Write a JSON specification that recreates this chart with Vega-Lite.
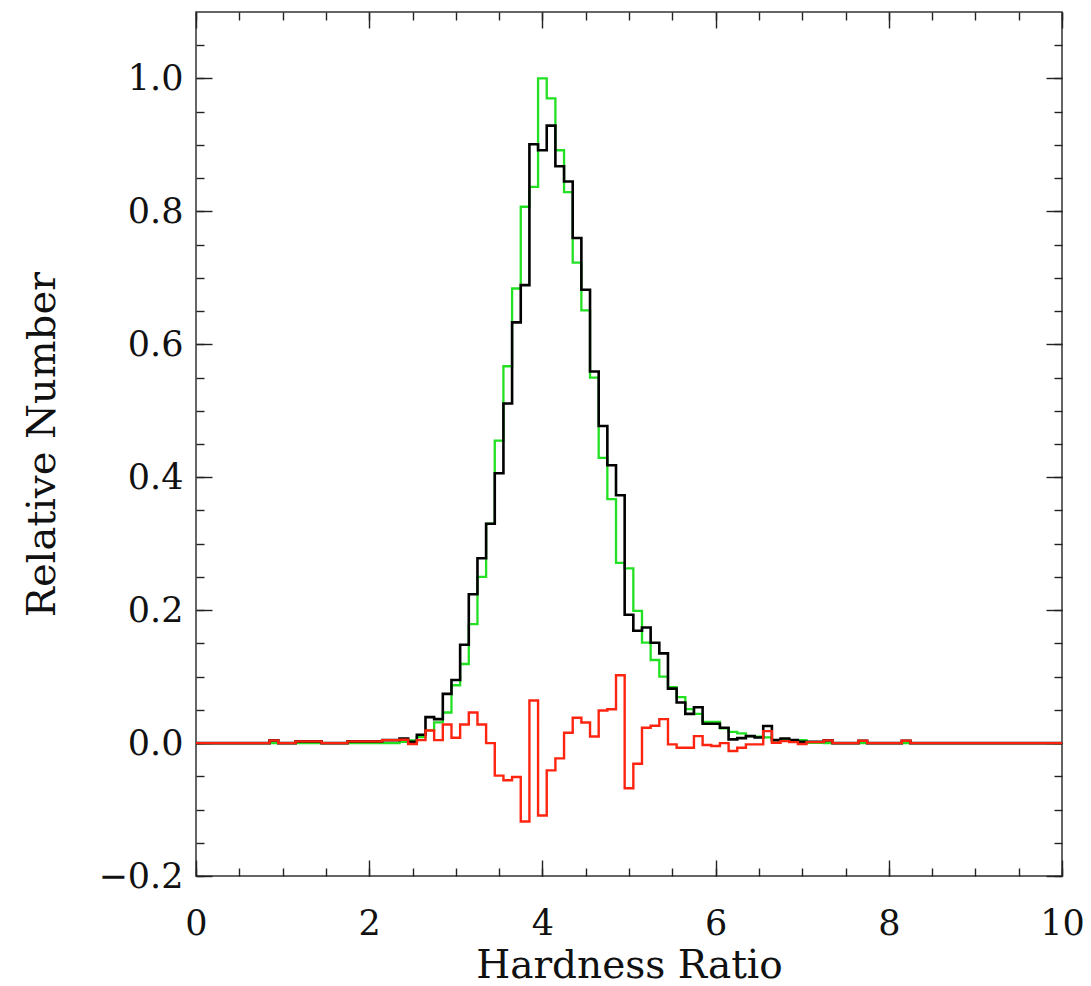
{
  "$schema": "https://vega.github.io/schema/vega-lite/v6.json",
  "autosize": "none",
  "width": 866,
  "height": 864,
  "padding": {"left": 196, "top": 12, "right": 29, "bottom": 110},
  "background": "white",
  "data": {
    "values": [
      {"x": 0.0, "black": 0, "green": 0, "red": 0},
      {"x": 0.1, "black": 0, "green": 0, "red": 0},
      {"x": 0.2, "black": 0, "green": 0, "red": 0},
      {"x": 0.3, "black": 0, "green": 0, "red": 0},
      {"x": 0.4, "black": 0, "green": 0, "red": 0},
      {"x": 0.5, "black": 0, "green": 0, "red": 0},
      {"x": 0.6, "black": 0, "green": 0, "red": 0},
      {"x": 0.7, "black": 0, "green": 0, "red": 0},
      {"x": 0.8, "black": 0, "green": 0, "red": 0},
      {"x": 0.9, "black": 0.004, "green": 0, "red": 0.004},
      {"x": 1.0, "black": 0, "green": 0, "red": 0},
      {"x": 1.1, "black": 0, "green": 0, "red": 0},
      {"x": 1.2, "black": 0.0025, "green": 0, "red": 0.0025},
      {"x": 1.3, "black": 0.0025, "green": 0, "red": 0.0025},
      {"x": 1.4, "black": 0.0025, "green": 0, "red": 0.0025},
      {"x": 1.5, "black": 0, "green": 0, "red": 0},
      {"x": 1.6, "black": 0, "green": 0, "red": 0},
      {"x": 1.7, "black": 0, "green": 0, "red": 0},
      {"x": 1.8, "black": 0.0025, "green": 0, "red": 0.0025},
      {"x": 1.9, "black": 0.0025, "green": 0, "red": 0.0025},
      {"x": 2.0, "black": 0.0025, "green": 0, "red": 0.0025},
      {"x": 2.1, "black": 0.0025, "green": 0, "red": 0.0025},
      {"x": 2.2, "black": 0.0045, "green": 0, "red": 0.0045},
      {"x": 2.3, "black": 0.0045, "green": 0, "red": 0.0045},
      {"x": 2.4, "black": 0.007, "green": 0.002, "red": 0.005},
      {"x": 2.5, "black": 0.002, "green": 0.004, "red": -0.0015},
      {"x": 2.6, "black": 0.0126, "green": 0.009, "red": 0.0045},
      {"x": 2.7, "black": 0.039, "green": 0.019, "red": 0.019},
      {"x": 2.8, "black": 0.036, "green": 0.031, "red": 0.0045},
      {"x": 2.9, "black": 0.074, "green": 0.046, "red": 0.028},
      {"x": 3.0, "black": 0.095, "green": 0.087, "red": 0.008},
      {"x": 3.1, "black": 0.148, "green": 0.119, "red": 0.028},
      {"x": 3.2, "black": 0.224, "green": 0.179, "red": 0.046},
      {"x": 3.3, "black": 0.278, "green": 0.25, "red": 0.028},
      {"x": 3.4, "black": 0.33, "green": 0.33, "red": 0.0},
      {"x": 3.5, "black": 0.406, "green": 0.455, "red": -0.049},
      {"x": 3.6, "black": 0.511, "green": 0.567, "red": -0.056},
      {"x": 3.7, "black": 0.633, "green": 0.684, "red": -0.051},
      {"x": 3.8, "black": 0.689, "green": 0.807, "red": -0.118},
      {"x": 3.9, "black": 0.901, "green": 0.837, "red": 0.064},
      {"x": 4.0, "black": 0.892, "green": 1.0, "red": -0.109},
      {"x": 4.1, "black": 0.929, "green": 0.97, "red": -0.041},
      {"x": 4.2, "black": 0.868, "green": 0.892, "red": -0.023},
      {"x": 4.3, "black": 0.845, "green": 0.829, "red": 0.0155},
      {"x": 4.4, "black": 0.76, "green": 0.723, "red": 0.038},
      {"x": 4.5, "black": 0.682, "green": 0.651, "red": 0.031},
      {"x": 4.6, "black": 0.559, "green": 0.55, "red": 0.01},
      {"x": 4.7, "black": 0.477, "green": 0.429, "red": 0.049},
      {"x": 4.8, "black": 0.418, "green": 0.367, "red": 0.051},
      {"x": 4.9, "black": 0.373, "green": 0.271, "red": 0.102},
      {"x": 5.0, "black": 0.193, "green": 0.263, "red": -0.068},
      {"x": 5.1, "black": 0.169, "green": 0.199, "red": -0.031},
      {"x": 5.2, "black": 0.174, "green": 0.151, "red": 0.023},
      {"x": 5.3, "black": 0.151, "green": 0.125, "red": 0.026},
      {"x": 5.4, "black": 0.135, "green": 0.1, "red": 0.036},
      {"x": 5.5, "black": 0.082, "green": 0.084, "red": -0.002},
      {"x": 5.6, "black": 0.061, "green": 0.069, "red": -0.007},
      {"x": 5.7, "black": 0.044, "green": 0.051, "red": -0.007},
      {"x": 5.8, "black": 0.054, "green": 0.044, "red": 0.0105},
      {"x": 5.9, "black": 0.029, "green": 0.032, "red": -0.003},
      {"x": 6.0, "black": 0.029, "green": 0.032, "red": -0.0045},
      {"x": 6.1, "black": 0.023, "green": 0.022, "red": 0.0},
      {"x": 6.2, "black": 0.0055, "green": 0.017, "red": -0.012},
      {"x": 6.3, "black": 0.0075, "green": 0.0145, "red": -0.007},
      {"x": 6.4, "black": 0.0105, "green": 0.0105, "red": -0.002},
      {"x": 6.5, "black": 0.0085, "green": 0.0095, "red": -0.002},
      {"x": 6.6, "black": 0.0256, "green": 0.0085, "red": 0.018},
      {"x": 6.7, "black": 0.0045, "green": 0.004, "red": 0.0005},
      {"x": 6.8, "black": 0.007, "green": 0.005, "red": 0.003},
      {"x": 6.9, "black": 0.0045, "green": 0.003, "red": 0.0015},
      {"x": 7.0, "black": 0.002, "green": 0.0045, "red": -0.0015},
      {"x": 7.1, "black": 0.002, "green": 0.0005, "red": 0.0015},
      {"x": 7.2, "black": 0.002, "green": 0.0005, "red": 0.0015},
      {"x": 7.3, "black": 0.004, "green": 0, "red": 0.004},
      {"x": 7.4, "black": 0, "green": 0, "red": 0},
      {"x": 7.5, "black": 0, "green": 0, "red": 0},
      {"x": 7.6, "black": 0, "green": 0, "red": 0},
      {"x": 7.7, "black": 0.0035, "green": 0, "red": 0.0035},
      {"x": 7.8, "black": 0, "green": 0, "red": 0},
      {"x": 7.9, "black": 0, "green": 0, "red": 0},
      {"x": 8.0, "black": 0, "green": 0, "red": 0},
      {"x": 8.1, "black": 0, "green": 0, "red": 0},
      {"x": 8.2, "black": 0.0035, "green": 0, "red": 0.0035},
      {"x": 8.3, "black": 0, "green": 0, "red": 0},
      {"x": 8.4, "black": 0, "green": 0, "red": 0},
      {"x": 8.5, "black": 0, "green": 0, "red": 0},
      {"x": 8.6, "black": 0, "green": 0, "red": 0},
      {"x": 8.7, "black": 0, "green": 0, "red": 0},
      {"x": 8.8, "black": 0, "green": 0, "red": 0},
      {"x": 8.9, "black": 0, "green": 0, "red": 0},
      {"x": 9.0, "black": 0, "green": 0, "red": 0},
      {"x": 9.1, "black": 0, "green": 0, "red": 0},
      {"x": 9.2, "black": 0, "green": 0, "red": 0},
      {"x": 9.3, "black": 0, "green": 0, "red": 0},
      {"x": 9.4, "black": 0, "green": 0, "red": 0},
      {"x": 9.5, "black": 0, "green": 0, "red": 0},
      {"x": 9.6, "black": 0, "green": 0, "red": 0},
      {"x": 9.7, "black": 0, "green": 0, "red": 0},
      {"x": 9.8, "black": 0, "green": 0, "red": 0},
      {"x": 9.9, "black": 0, "green": 0, "red": 0},
      {"x": 10.0, "black": 0, "green": 0, "red": 0}
    ]
  },
  "layer": [
    {
      "mark": {"type": "line", "interpolate": "step", "opacity": 0},
      "encoding": {
        "x": {
          "field": "x", "type": "quantitative",
          "scale": {"domain": [0, 10], "nice": false, "zero": false},
          "axis": {"orient": "top", "values": [0, 0.5, 1, 1.5, 2, 2.5, 3, 3.5, 4, 4.5, 5, 5.5, 6, 6.5, 7, 7.5, 8, 8.5, 9, 9.5, 10], "tickSize": -8, "labels": false, "title": null}
        },
        "y": {
          "field": "green", "type": "quantitative",
          "scale": {"domain": [-0.2, 1.1], "nice": false, "zero": false},
          "axis": {"orient": "right", "values": [-0.2, -0.15, -0.1, -0.05, 0, 0.05, 0.1, 0.15, 0.2, 0.25, 0.3, 0.35, 0.4, 0.45, 0.5, 0.55, 0.6, 0.65, 0.7, 0.75, 0.8, 0.85, 0.9, 0.95, 1.0, 1.05], "tickSize": -8, "labels": false, "title": null}
        }
      }
    },
    {
      "mark": {"type": "line", "interpolate": "step", "color": "#22e022", "strokeWidth": 2.3},
      "encoding": {
        "x": {
          "field": "x", "type": "quantitative",
          "axis": {"orient": "top", "values": [0, 2, 4, 6, 8, 10], "tickSize": -16, "labels": false, "title": null}
        },
        "y": {
          "field": "green", "type": "quantitative",
          "axis": {"orient": "right", "values": [-0.2, 0, 0.2, 0.4, 0.6, 0.8, 1.0], "tickSize": -16, "labels": false, "title": null}
        }
      }
    },
    {
      "mark": {"type": "line", "interpolate": "step", "color": "#000000", "strokeWidth": 2.6},
      "encoding": {
        "x": {
          "field": "x", "type": "quantitative",
          "axis": {"orient": "bottom", "values": [0, 0.5, 1, 1.5, 2, 2.5, 3, 3.5, 4, 4.5, 5, 5.5, 6, 6.5, 7, 7.5, 8, 8.5, 9, 9.5, 10], "tickSize": -8, "labels": false, "title": null}
        },
        "y": {
          "field": "black", "type": "quantitative",
          "axis": {"orient": "left", "values": [-0.2, -0.15, -0.1, -0.05, 0, 0.05, 0.1, 0.15, 0.2, 0.25, 0.3, 0.35, 0.4, 0.45, 0.5, 0.55, 0.6, 0.65, 0.7, 0.75, 0.8, 0.85, 0.9, 0.95, 1.0, 1.05], "tickSize": -8, "labels": false, "title": null}
        }
      }
    },
    {
      "mark": {"type": "line", "interpolate": "step", "color": "#ff2410", "strokeWidth": 2.4},
      "encoding": {
        "x": {
          "field": "x", "type": "quantitative",
          "axis": {"orient": "bottom", "values": [0, 2, 4, 6, 8, 10], "tickSize": -16, "labelPadding": 46, "format": "d", "title": "Hardness Ratio", "titlePadding": 5, "titleFontSize": 39}
        },
        "y": {
          "field": "red", "type": "quantitative",
          "axis": {"orient": "left", "values": [-0.2, 0, 0.2, 0.4, 0.6, 0.8, 1.0], "tickSize": -16, "labelPadding": 29, "format": ".1f", "title": "Relative Number", "titlePadding": 36, "titleFontSize": 40}
        }
      }
    }
  ],
  "resolve": {"axis": {"x": "independent", "y": "independent"}},
  "config": {
    "view": {"stroke": "#333333", "strokeWidth": 1.5},
    "axis": {
      "domain": false,
      "grid": false,
      "tickColor": "#222222",
      "tickWidth": 1.4,
      "labelFont": "DejaVu Serif",
      "labelFontSize": 35,
      "labelColor": "#111111",
      "labelFontWeight": "normal",
      "titleFont": "DejaVu Serif",
      "titleFontWeight": "normal",
      "titleColor": "#111111",
      "labelFlush": false,
      "labelOverlap": false
    }
  }
}
